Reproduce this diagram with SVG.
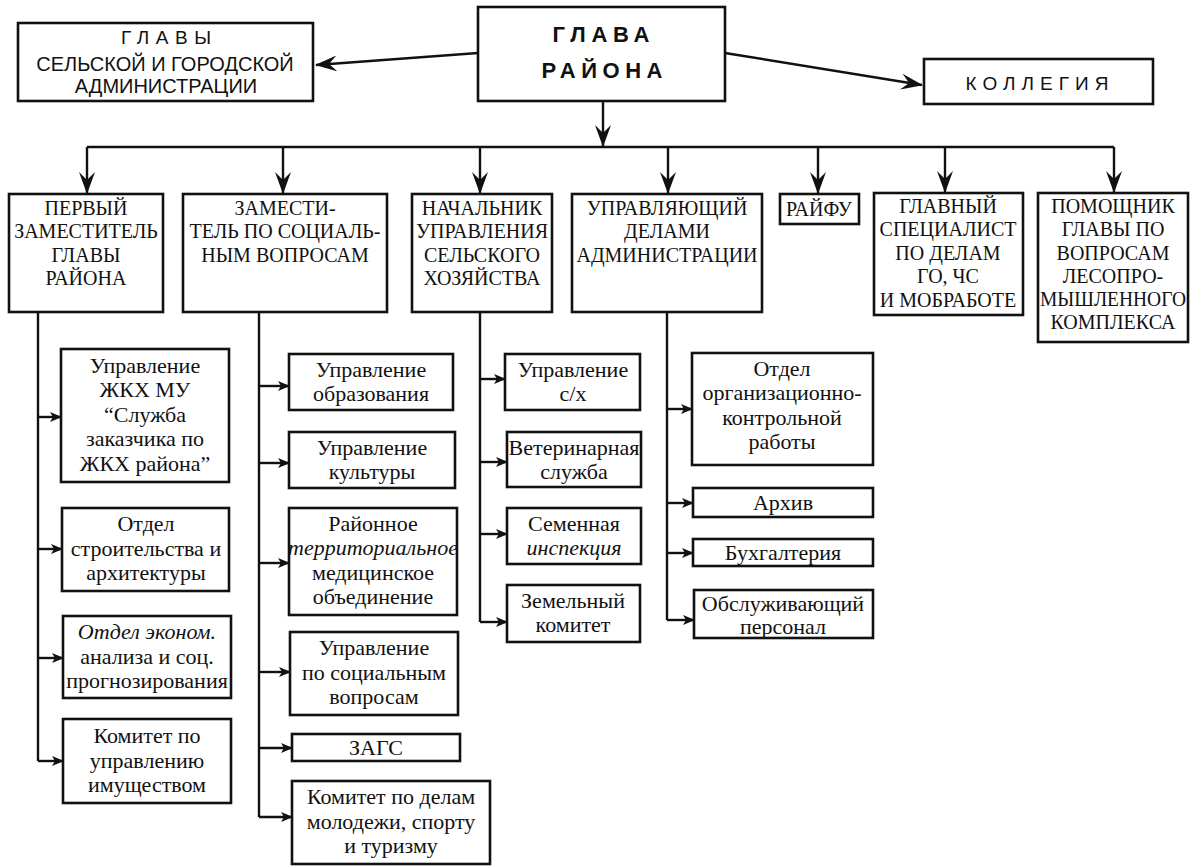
<svg xmlns="http://www.w3.org/2000/svg" width="1191" height="868" viewBox="0 0 1191 868">
<style>
  .box { fill: #fff; stroke: #111; stroke-width: 2.6; }
  .ln { fill: none; stroke: #111; stroke-width: 2.4; }
  .sans { font-family: "Liberation Sans", Arial, sans-serif; fill: #111; text-anchor: middle; }
  .hd { font-family: "Liberation Serif", "Times New Roman", serif; font-size: 20px; fill: #111; text-anchor: middle; }
  .ch { font-family: "Liberation Serif", "Times New Roman", serif; font-size: 22px; fill: #111; text-anchor: middle; }
  .it { font-style: italic; }
</style>
<defs>
  <marker id="big" viewBox="0 0 22 16" refX="21" refY="8" markerWidth="22" markerHeight="16" markerUnits="userSpaceOnUse" orient="auto">
    <path d="M0,0 L22,8 L0,16 L8,8 Z" fill="#111"/>
  </marker>
  <marker id="small" viewBox="0 0 12 10" refX="11" refY="5" markerWidth="12" markerHeight="10" markerUnits="userSpaceOnUse" orient="auto">
    <path d="M0,0 L12,5 L0,10 L3,5 Z" fill="#111"/>
  </marker>
</defs>

<g id="connectors">
  <!-- top level -->
  <path class="ln" d="M478,53 L316,65" marker-end="url(#big)"/>
  <path class="ln" d="M725,53 L922,85" marker-end="url(#big)"/>
  <path class="ln" d="M603,101 L603,146" marker-end="url(#big)"/>
  <path class="ln" d="M87,147 L1114,147"/>
  <path class="ln" d="M87,147 L87,193" marker-end="url(#big)"/>
  <path class="ln" d="M283,147 L283,193" marker-end="url(#big)"/>
  <path class="ln" d="M480,147 L480,193" marker-end="url(#big)"/>
  <path class="ln" d="M668,147 L668,193" marker-end="url(#big)"/>
  <path class="ln" d="M818,147 L818,193" marker-end="url(#big)"/>
  <path class="ln" d="M945,147 L945,192" marker-end="url(#big)"/>
  <path class="ln" d="M1114,147 L1114,192" marker-end="url(#big)"/>
  <!-- column 1 -->
  <path class="ln" d="M38,312 L38,761"/>
  <path class="ln" d="M38,417 L61,417" marker-end="url(#small)"/>
  <path class="ln" d="M38,549 L62,549" marker-end="url(#small)"/>
  <path class="ln" d="M38,658 L63,658" marker-end="url(#small)"/>
  <path class="ln" d="M38,761 L63,761" marker-end="url(#small)"/>
  <!-- column 2 -->
  <path class="ln" d="M259,312 L259,817"/>
  <path class="ln" d="M259,386 L289,386" marker-end="url(#small)"/>
  <path class="ln" d="M259,463 L289,463" marker-end="url(#small)"/>
  <path class="ln" d="M259,563 L289,563" marker-end="url(#small)"/>
  <path class="ln" d="M259,672 L290,672" marker-end="url(#small)"/>
  <path class="ln" d="M259,748 L292,748" marker-end="url(#small)"/>
  <path class="ln" d="M259,817 L292,817" marker-end="url(#small)"/>
  <!-- column 3 -->
  <path class="ln" d="M480,312 L480,622"/>
  <path class="ln" d="M480,379 L505,379" marker-end="url(#small)"/>
  <path class="ln" d="M480,462 L507,462" marker-end="url(#small)"/>
  <path class="ln" d="M480,534 L507,534" marker-end="url(#small)"/>
  <path class="ln" d="M480,622 L507,622" marker-end="url(#small)"/>
  <!-- column 4 -->
  <path class="ln" d="M667,312 L667,620"/>
  <path class="ln" d="M667,409 L692,409" marker-end="url(#small)"/>
  <path class="ln" d="M667,503 L693,503" marker-end="url(#small)"/>
  <path class="ln" d="M667,553 L693,553" marker-end="url(#small)"/>
  <path class="ln" d="M667,620 L694,620" marker-end="url(#small)"/>
</g>

<!-- top row -->
<g id="glava">
  <rect class="box" x="478" y="7" width="247" height="94"/>
  <text class="sans" x="601" y="42" font-size="22" font-weight="bold" textLength="97" lengthAdjust="spacing">ГЛАВА</text>
  <text class="sans" x="602" y="78" font-size="22" font-weight="bold" textLength="121" lengthAdjust="spacing">РАЙОНА</text>
</g>
<g id="glavy-admin">
  <rect class="box" x="18" y="23" width="295" height="78"/>
  <text class="sans" x="166" y="44" font-size="19" textLength="90" lengthAdjust="spacing">ГЛАВЫ</text>
  <text class="sans" x="165" y="71" font-size="20">СЕЛЬСКОЙ И ГОРОДСКОЙ</text>
  <text class="sans" x="166" y="93" font-size="20">АДМИНИСТРАЦИИ</text>
</g>
<g id="kollegiya">
  <rect class="box" x="924" y="59" width="229" height="45"/>
  <text class="sans" x="1037" y="90" font-size="19" textLength="143" lengthAdjust="spacing">КОЛЛЕГИЯ</text>
</g>

<!-- second row -->
<g id="perviy">
  <rect class="box" x="9" y="194" width="154" height="118"/>
  <text class="hd" x="86" y="215">ПЕРВЫЙ</text>
  <text class="hd" x="86" y="238">ЗАМЕСТИТЕЛЬ</text>
  <text class="hd" x="86" y="262">ГЛАВЫ</text>
  <text class="hd" x="86" y="285">РАЙОНА</text>
</g>
<g id="zam-social">
  <rect class="box" x="183" y="194" width="204" height="118"/>
  <text class="hd" x="285" y="215">ЗАМЕСТИ-</text>
  <text class="hd" x="285" y="238">ТЕЛЬ ПО СОЦИАЛЬ-</text>
  <text class="hd" x="285" y="262">НЫМ ВОПРОСАМ</text>
</g>
<g id="nachalnik">
  <rect class="box" x="412" y="194" width="140" height="118"/>
  <text class="hd" x="482" y="215">НАЧАЛЬНИК</text>
  <text class="hd" x="482" y="238">УПРАВЛЕНИЯ</text>
  <text class="hd" x="482" y="262">СЕЛЬСКОГО</text>
  <text class="hd" x="482" y="285">ХОЗЯЙСТВА</text>
</g>
<g id="upravl-delami">
  <rect class="box" x="572" y="194" width="190" height="118"/>
  <text class="hd" x="667" y="215">УПРАВЛЯЮЩИЙ</text>
  <text class="hd" x="667" y="238">ДЕЛАМИ</text>
  <text class="hd" x="667" y="262">АДМИНИСТРАЦИИ</text>
</g>
<g id="rayfu">
  <rect class="box" x="780" y="194" width="79" height="30"/>
  <text class="hd" x="819" y="216">РАЙФУ</text>
</g>
<g id="glavniy-spec">
  <rect class="box" x="874" y="193" width="149" height="122"/>
  <text class="hd" x="948" y="213">ГЛАВНЫЙ</text>
  <text class="hd" x="948" y="236">СПЕЦИАЛИСТ</text>
  <text class="hd" x="948" y="260">ПО ДЕЛАМ</text>
  <text class="hd" x="948" y="283">ГО, ЧС</text>
  <text class="hd" x="948" y="307">И МОБРАБОТЕ</text>
</g>
<g id="pomoshnik">
  <rect class="box" x="1038" y="193" width="150" height="149"/>
  <text class="hd" x="1113" y="213">ПОМОЩНИК</text>
  <text class="hd" x="1113" y="236">ГЛАВЫ ПО</text>
  <text class="hd" x="1113" y="260">ВОПРОСАМ</text>
  <text class="hd" x="1113" y="283">ЛЕСОПРО-</text>
  <text class="hd" x="1113" y="306" textLength="146" lengthAdjust="spacingAndGlyphs">МЫШЛЕННОГО</text>
  <text class="hd" x="1113" y="329">КОМПЛЕКСА</text>
</g>

<!-- column 1 children -->
<g id="zhkh">
  <rect class="box" x="61" y="349" width="168" height="133"/>
  <text class="ch" x="145" y="373">Управление</text>
  <text class="ch" x="145" y="397">ЖКХ МУ</text>
  <text class="ch" x="145" y="422">“Служба</text>
  <text class="ch" x="145" y="446">заказчика по</text>
  <text class="ch" x="145" y="471">ЖКХ района”</text>
</g>
<g id="otdel-stroit">
  <rect class="box" x="62" y="508" width="167" height="83"/>
  <text class="ch" x="146" y="531">Отдел</text>
  <text class="ch" x="146" y="556">строительства и</text>
  <text class="ch" x="146" y="580">архитектуры</text>
</g>
<g id="otdel-econom">
  <rect class="box" x="63" y="616" width="168" height="82"/>
  <text class="ch it" x="147" y="639">Отдел эконом.</text>
  <text class="ch" x="147" y="664">анализа и соц.</text>
  <text class="ch" x="147" y="688">прогнозирования</text>
</g>
<g id="komitet-imush">
  <rect class="box" x="63" y="719" width="168" height="84"/>
  <text class="ch" x="147" y="743">Комитет по</text>
  <text class="ch" x="147" y="768">управлению</text>
  <text class="ch" x="147" y="792">имуществом</text>
</g>

<!-- column 2 children -->
<g id="upr-obraz">
  <rect class="box" x="289" y="354" width="164" height="56"/>
  <text class="ch" x="371" y="377">Управление</text>
  <text class="ch" x="371" y="401">образования</text>
</g>
<g id="upr-kult">
  <rect class="box" x="289" y="432" width="166" height="56"/>
  <text class="ch" x="372" y="455">Управление</text>
  <text class="ch" x="372" y="479">культуры</text>
</g>
<g id="med">
  <rect class="box" x="289" y="508" width="168" height="107"/>
  <text class="ch" x="373" y="531">Районное</text>
  <text class="ch it" x="373" y="555">территориальное</text>
  <text class="ch" x="373" y="580">медицинское</text>
  <text class="ch" x="373" y="604">объединение</text>
</g>
<g id="upr-soc">
  <rect class="box" x="290" y="632" width="168" height="83"/>
  <text class="ch" x="374" y="655">Управление</text>
  <text class="ch" x="374" y="680">по социальным</text>
  <text class="ch" x="374" y="704">вопросам</text>
</g>
<g id="zags">
  <rect class="box" x="292" y="734" width="168" height="27"/>
  <text class="ch" x="376" y="755">ЗАГС</text>
</g>
<g id="komitet-molod">
  <rect class="box" x="292" y="781" width="198" height="83"/>
  <text class="ch" x="391" y="804">Комитет по делам</text>
  <text class="ch" x="391" y="829">молодежи, спорту</text>
  <text class="ch" x="391" y="853">и туризму</text>
</g>

<!-- column 3 children -->
<g id="upr-sh">
  <rect class="box" x="505" y="354" width="135" height="56"/>
  <text class="ch" x="573" y="377">Управление</text>
  <text class="ch" x="573" y="401">с/х</text>
</g>
<g id="veterin">
  <rect class="box" x="507" y="432" width="134" height="55"/>
  <text class="ch" x="574" y="455">Ветеринарная</text>
  <text class="ch" x="574" y="479">служба</text>
</g>
<g id="semennaya">
  <rect class="box" x="507" y="508" width="134" height="56"/>
  <text class="ch" x="574" y="531">Семенная</text>
  <text class="ch it" x="574" y="555">инспекция</text>
</g>
<g id="zemelniy">
  <rect class="box" x="507" y="585" width="133" height="57"/>
  <text class="ch" x="573" y="608">Земельный</text>
  <text class="ch" x="573" y="632">комитет</text>
</g>

<!-- column 4 children -->
<g id="otdel-org">
  <rect class="box" x="692" y="353" width="181" height="112"/>
  <text class="ch" x="782" y="376">Отдел</text>
  <text class="ch" x="782" y="400">организационно-</text>
  <text class="ch" x="782" y="425">контрольной</text>
  <text class="ch" x="782" y="449">работы</text>
</g>
<g id="arhiv">
  <rect class="box" x="693" y="488" width="180" height="29"/>
  <text class="ch" x="783" y="510">Архив</text>
</g>
<g id="buhgalt">
  <rect class="box" x="693" y="539" width="180" height="27"/>
  <text class="ch" x="783" y="560">Бухгалтерия</text>
</g>
<g id="obsluzh">
  <rect class="box" x="694" y="590" width="179" height="48"/>
  <text class="ch" x="783" y="611">Обслуживающий</text>
  <text class="ch" x="783" y="634">персонал</text>
</g>
</svg>
